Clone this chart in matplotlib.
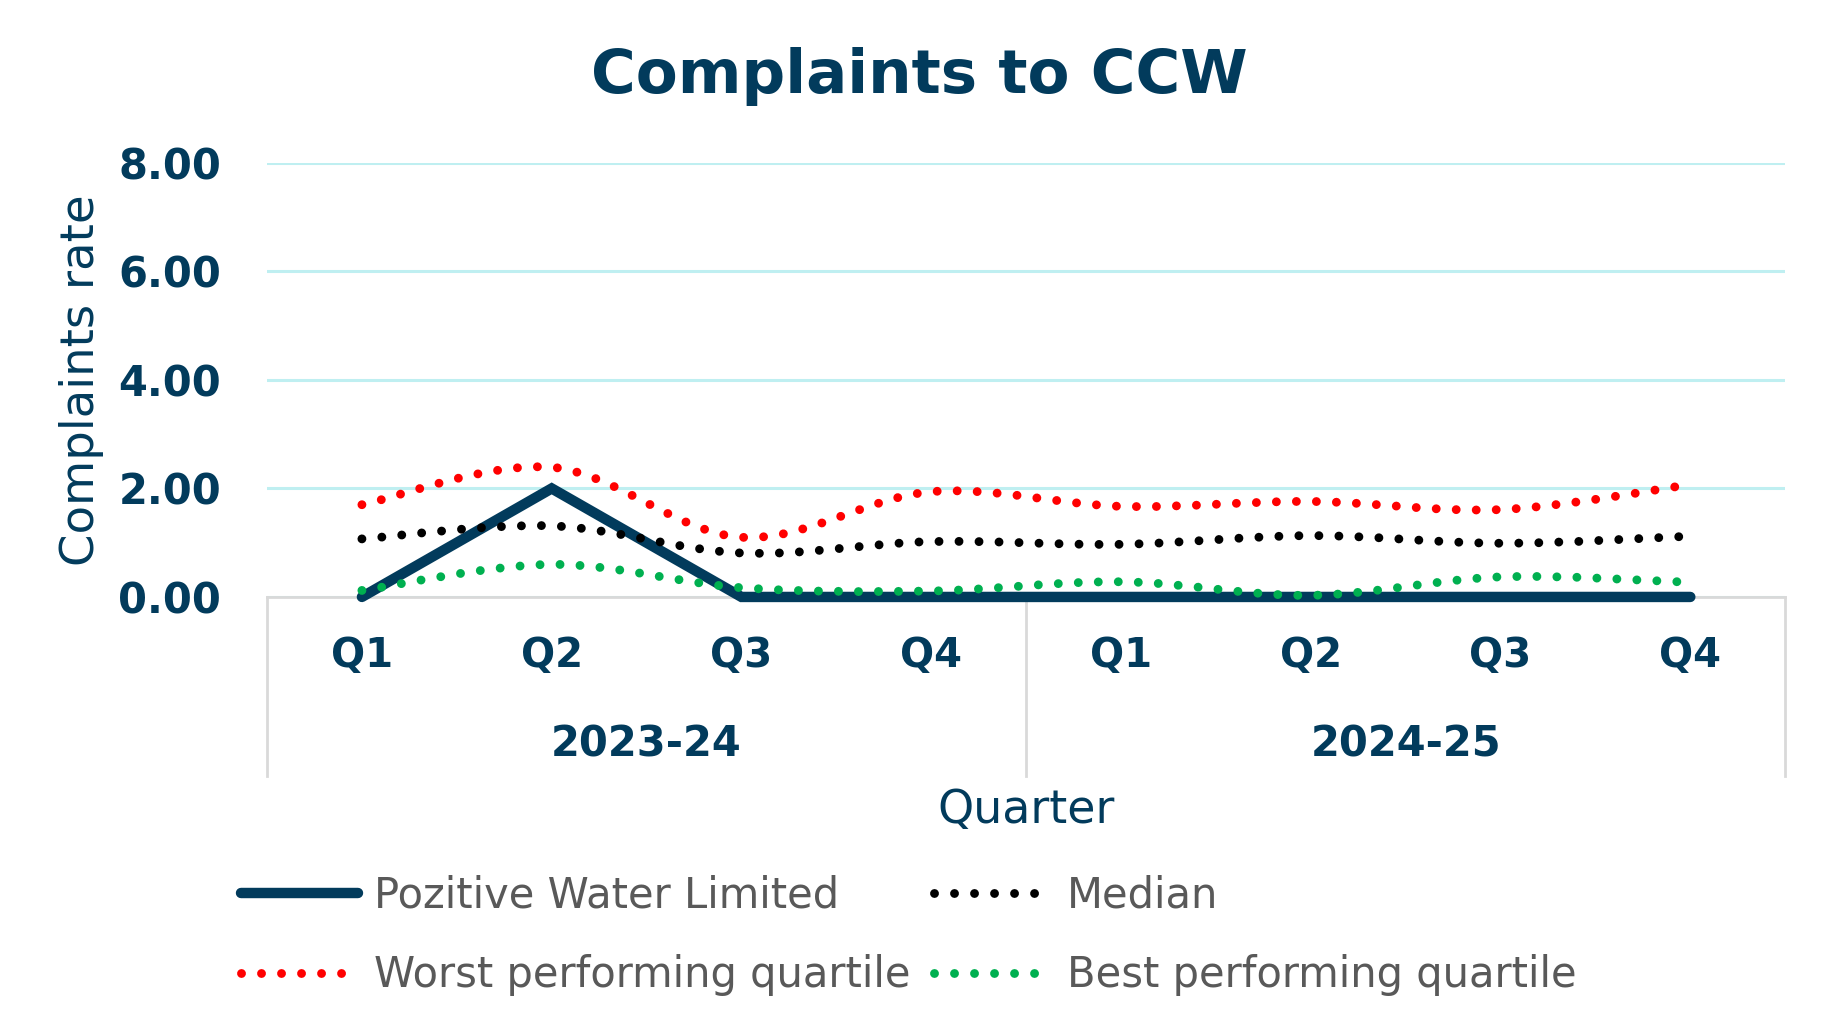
import matplotlib
matplotlib.use("Agg")
import matplotlib.pyplot as plt
import numpy as np
from matplotlib.path import Path
from matplotlib.patches import PathPatch
from matplotlib.lines import Line2D

# data
quarters = ["Q1", "Q2", "Q3", "Q4", "Q1", "Q2", "Q3", "Q4"]
years = ["2023-24", "2024-25"]
pozitive = [0.00, 2.00, 0.00, 0.00, 0.00, 0.00, 0.00, 0.00]
median = [1.07, 1.31, 0.81, 1.02, 0.97, 1.13, 0.99, 1.12]
worst = [1.70, 2.39, 1.10, 1.94, 1.67, 1.76, 1.61, 2.07]
best = [0.12, 0.60, 0.17, 0.11, 0.28, 0.03, 0.37, 0.27]

NAVY = "#023B5C"
GREY_TXT = "#595959"
GRID = "#BFEFF1"
AXIS_GREY = "#D9D9D9"

plt.rcParams["font.family"] = ["DejaVu Sans"]


def smooth_path(x, y):
    # bezier segments through the points, like Excel's smoothed line
    pts = np.column_stack([x, y]).astype(float)
    n = len(pts)
    verts = [pts[0]]
    codes = [Path.MOVETO]
    for i in range(n - 1):
        p0 = pts[max(i - 1, 0)]
        p1 = pts[i]
        p2 = pts[i + 1]
        p3 = pts[min(i + 2, n - 1)]
        verts += [p1 + (p2 - p0) / 6, p2 - (p3 - p1) / 6, p2]
        codes += [Path.CURVE4] * 3
    return Path(verts, codes)


fig = plt.figure(figsize=(18.34, 10.31), dpi=100)
ax = fig.add_axes([0.1456, 0.421, 0.8278, 0.421])

x = np.arange(len(quarters)) + 0.5
DOT_LW = 6.4
dot_style = (0, (0.001, 2.25))

ax.plot(x, pozitive, color=NAVY, lw=7.5, solid_capstyle="round",
        solid_joinstyle="miter", zorder=3, clip_on=False)

series = [(median, "#000000"), (worst, "#FF0000"), (best, "#00B050")]
for vals, col in series:
    patch = PathPatch(smooth_path(x, vals), fill=False, edgecolor=col,
                      lw=DOT_LW, linestyle=dot_style, capstyle="round",
                      zorder=4, clip_on=False)
    ax.add_patch(patch)

ax.set_xlim(0, 8)
ax.set_ylim(0, 8)
ax.set_yticks([0, 2, 4, 6, 8])
ax.set_yticklabels([f"{v:.2f}" for v in [0, 2, 4, 6, 8]])
ax.tick_params(axis="y", length=0, pad=33, labelsize=30, labelcolor=NAVY)
for lab in ax.get_yticklabels():
    lab.set_fontweight("bold")
ax.yaxis.grid(True, color=GRID, lw=2.2)
ax.set_axisbelow(True)
ax.set_xticks([])

for side in ["top", "right", "left"]:
    ax.spines[side].set_visible(False)
ax.spines["bottom"].set_color(AXIS_GREY)
ax.spines["bottom"].set_linewidth(2)
ax.spines["bottom"].set_zorder(2)

# category axis with two levels
tr = ax.get_xaxis_transform()
for xs in [0, 4, 8]:
    ax.plot([xs, xs], [0, -0.412], transform=tr, color=AXIS_GREY, lw=2,
            clip_on=False)
for xi, q in zip(x, quarters):
    ax.text(xi, -0.136, q, transform=tr, ha="center", va="center",
            fontsize=29, fontweight="bold", color=NAVY)
for i, yr in enumerate(years):
    ax.text(2 + 4 * i, -0.341, yr, transform=tr, ha="center", va="center",
            fontsize=30, fontweight="bold", color=NAVY)

ax.text(0.5, -0.493, "Quarter", transform=ax.transAxes, ha="center",
        va="center", fontsize=33, color=NAVY)
ax.text(-0.122, 0.5, "Complaints rate", transform=ax.transAxes,
        rotation=90, ha="center", va="center", fontsize=33.5, color=NAVY)

fig.text(0.501, 0.926, "Complaints to CCW", ha="center", va="center",
         fontsize=44, fontweight="bold", color=NAVY)

handles = [
    Line2D([], [], color=NAVY, lw=7.5, solid_capstyle="round"),
    Line2D([], [], color="#FF0000", lw=DOT_LW, linestyle=dot_style,
           dash_capstyle="round"),
    Line2D([], [], color="#000000", lw=DOT_LW, linestyle=dot_style,
           dash_capstyle="round"),
    Line2D([], [], color="#00B050", lw=DOT_LW, linestyle=dot_style,
           dash_capstyle="round"),
]
labels = ["Pozitive Water Limited", "Worst performing quartile", "Median",
          "Best performing quartile"]
fig.legend(handles, labels, ncol=2, loc="center",
           bbox_to_anchor=(0.4955, 0.0924), frameon=False, fontsize=30,
           labelcolor=GREY_TXT, handlelength=2.8, handletextpad=0.4,
           columnspacing=0.55, labelspacing=0.9)

fig.savefig("out.png", dpi=100, facecolor="white")
